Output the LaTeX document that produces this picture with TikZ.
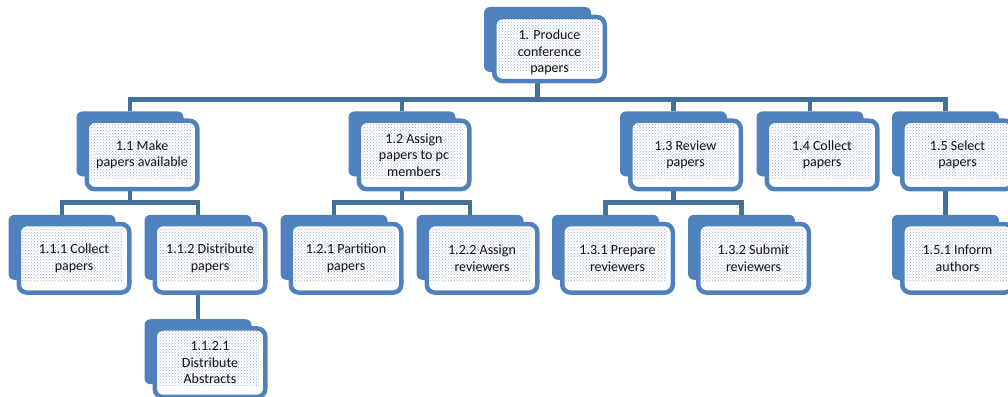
\documentclass[tikz,border=0pt]{standalone}
\usepackage{fontspec}
\setmainfont{Carlito}
\usetikzlibrary{positioning}
\usetikzlibrary{calc}
\usetikzlibrary{patterns}
\usetikzlibrary{backgrounds}

\definecolor{bkblue}{HTML}{4F81BD}
\definecolor{lineblue}{HTML}{44709F}
\definecolor{dotblue}{HTML}{9DB2CF}
\definecolor{txtgray}{HTML}{141414}

\tikzset{
  backbox/.style={fill=bkblue, rounded corners=6pt, inner sep=0pt,
    minimum width=107pt, minimum height=65pt},
  frontbox/.style={draw=bkblue, line width=4.5pt, fill=white, rounded corners=8pt,
    inner sep=0pt, minimum width=110.5pt, minimum height=68.5pt,
    align=center, text=txtgray, font=\fontsize{14}{16.5}\selectfont\rule{0pt}{13pt},
    path picture={\fill[sharp corners, pattern=crosshatch dots, pattern color=dotblue]
      ([xshift=3pt,yshift=-3pt]path picture bounding box.north west) rectangle
      ([xshift=-6pt,yshift=11pt]path picture bounding box.south east);}},
  conn/.style={draw=lineblue, line width=4.5pt},
}

\begin{document}
\begin{tikzpicture}[x=1pt, y=-1pt]
\useasboundingbox (0,0) rectangle (1008,396);
\clip (0,0) rectangle (1008,396);

% top
\node[backbox] (n1-bk) at (537.5,39.5) {};
\node[frontbox, minimum height=64pt] (n1) at ($(n1-bk)+(12,9.5)$) {\rule{0pt}{17pt}1. Produce\\conference\\papers};

% level 1
\node[backbox, below=39pt of n1-bk, xshift=-407.5pt] (n11-bk) {};
\node[backbox, below=39pt of n1-bk, xshift=-135.5pt] (n12-bk) {};
\node[backbox, below=39pt of n1-bk, xshift=136pt] (n13-bk) {};
\node[backbox, below=39pt of n1-bk, xshift=272.5pt] (n14-bk) {};
\node[backbox, below=39pt of n1-bk, xshift=408pt] (n15-bk) {};
\node[frontbox] (n11) at ($(n11-bk)+(12,11)$) {1.1 Make\\papers available};
\node[frontbox] (n12) at ($(n12-bk)+(12,11)$) {1.2 Assign\\papers to pc\\members};
\node[frontbox] (n13) at ($(n13-bk)+(12,11)$) {1.3 Review\\papers};
\node[frontbox] (n14) at ($(n14-bk)+(12,11)$) {1.4 Collect\\papers};
\node[frontbox] (n15) at ($(n15-bk)+(12,11)$) {1.5 Select\\papers};

% level 2
\node[backbox, below=38pt of n11-bk, xshift=-68pt] (n111-bk) {};
\node[backbox, below=38pt of n11-bk, xshift=68pt] (n112-bk) {};
\node[backbox, below=38pt of n12-bk, xshift=-68pt] (n121-bk) {};
\node[backbox, below=38pt of n12-bk, xshift=68pt] (n122-bk) {};
\node[backbox, below=38pt of n13-bk, xshift=-68pt] (n131-bk) {};
\node[backbox, below=38pt of n13-bk, xshift=68pt] (n132-bk) {};
\node[backbox, below=38pt of n15-bk] (n151-bk) {};
\node[frontbox] (n111) at ($(n111-bk)+(12,11)$) {1.1.1 Collect\\papers};
\node[frontbox] (n112) at ($(n112-bk)+(12,11)$) {1.1.2 Distribute\\papers};
\node[frontbox] (n121) at ($(n121-bk)+(12,11)$) {1.2.1 Partition\\papers};
\node[frontbox] (n122) at ($(n122-bk)+(12,11)$) {1.2.2 Assign\\reviewers};
\node[frontbox] (n131) at ($(n131-bk)+(12,11)$) {1.3.1 Prepare\\reviewers};
\node[frontbox] (n132) at ($(n132-bk)+(12,11)$) {1.3.2 Submit\\reviewers};
\node[frontbox] (n151) at ($(n151-bk)+(12,11)$) {1.5.1 Inform\\authors};

% level 3
\node[backbox, below=39pt of n112-bk] (n1121-bk) {};
\node[frontbox] (n1121) at ($(n1121-bk)+(12,11)$) {1.1.2.1\\Distribute\\Abstracts};

% connectors
\begin{scope}[on background layer]
  \draw[conn] (n1-bk.center |- n1.south) -- ++(0,16) coordinate (bus1);
  \foreach \c in {n11,n12,n13,n14,n15}
    \draw[conn] (bus1) -| (\c-bk.north);
  \foreach \p/\a/\b in {n11/n111/n112, n12/n121/n122, n13/n131/n132} {
    \draw[conn] (\p-bk.center |- \p.south) -- ++(0,11) coordinate (bus-\p);
    \draw[conn] (bus-\p) -| (\a-bk.north);
    \draw[conn] (bus-\p) -| (\b-bk.north);
  }
  \draw[conn] (n15-bk.center |- n15.south) -- (n151-bk.north);
  \draw[conn] (n112-bk.center |- n112.south) -- (n1121-bk.north);
\end{scope}

\end{tikzpicture}
\end{document}
